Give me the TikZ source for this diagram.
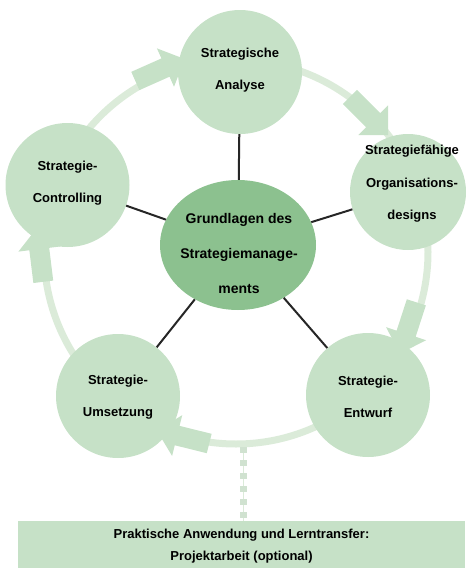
\documentclass[tikz,border=0pt]{standalone}
\usepackage{fontspec}
\setmainfont{Liberation Sans}
\usetikzlibrary{shapes.geometric}

\definecolor{phasegreen}{RGB}{198,225,199}
\definecolor{coregreen}{RGB}{140,193,143}
\definecolor{ringgreen}{RGB}{219,235,217}
\definecolor{dotgreen}{RGB}{208,226,208}

\begin{document}
\begin{tikzpicture}[x=1pt,y=-1pt,
    phase/.style={circle,fill=phasegreen,minimum size=124pt,inner sep=0pt},
    phasetext/.style={align=center,inner sep=0pt,font=\bfseries\fontsize{13}{32.5}\selectfont},
    core/.style={ellipse,fill=coregreen,minimum width=156pt,minimum height=130pt,inner sep=0pt},
    coretext/.style={align=center,inner sep=0pt,font=\bfseries\fontsize{14}{35}\selectfont},
    flow/.pic={\fill[phasegreen] (-27,-10) -- (6,-10) -- (6,-21) -- (27,0) -- (6,21) -- (6,10) -- (-27,10) -- cycle;},
    spoke/.style={line width=2pt,black!85}]

            \useasboundingbox (0,0) rectangle (468,568);

            % ring and flow arrows
            \draw[ringgreen,line width=7pt] (236,252) circle[radius=192];
            \coordinate (ringfoot) at (243.5,447);

            \pic[rotate=24]   (f1) at (160,70) {flow};
            \pic[rotate=-45]  (f2) at (369,116) {flow};
            \pic[rotate=-108] (f3) at (408,328) {flow};
            \pic[rotate=166]  (f4) at (183,437) {flow};
            \pic[rotate=97]   (f5) at (40,255) {flow};

            % centre
            \node[core] (core) at (238,245) {};
            \node[coretext] (core-t) at (239,253) {Grundlagen des\\Strategiemanage-\\ments};

            % phases
            \node[phase] (analyse) at (240,72) {};
            \node[phase,minimum size=116pt] (organisation) at (408,192) {};
            \node[phase] (entwurf) at (368,395) {};
            \node[phase] (umsetzung) at (118,396) {};
            \node[phase] (controlling) at (67.5,185) {};

            \node[phasetext] (analyse-t) at (240,70) {Strategische\\Analyse};
            \node[phasetext] (organisation-t) at (412,184) {Strategiefähige\\Organisations-\\designs};
            \node[phasetext] (entwurf-t) at (368,397) {Strategie-\\Entwurf};
            \node[phasetext] (umsetzung-t) at (118,397) {Strategie-\\Umsetzung};
            \node[phasetext] (controlling-t) at (67.5,183) {Strategie-\\Controlling};

            \draw[spoke] (core) to (analyse);
            \draw[spoke] (core) to (organisation);
            \draw[spoke] (core) to (entwurf);
            \draw[spoke] (core) to (umsetzung);
            \draw[spoke] (core) to (controlling);

            % transfer
            \node[fill=phasegreen,minimum width=447pt,minimum height=47pt,inner sep=0pt] (transfer) at (241.5,544.5) {};
            \node[align=center,inner sep=0pt,font=\bfseries\fontsize{13}{22}\selectfont] (transfer-t) at (241.5,546)
                {Praktische Anwendung und Lerntransfer:\\Projektarbeit (optional)};

            \draw[ringgreen,line width=0.8pt] (ringfoot) to (ringfoot |- transfer.north);
            \draw[dotgreen,line width=6.5pt,dash pattern=on 5.5pt off 7.5pt] (ringfoot) to (ringfoot |- transfer.north);
        \end{tikzpicture}
\end{document}
